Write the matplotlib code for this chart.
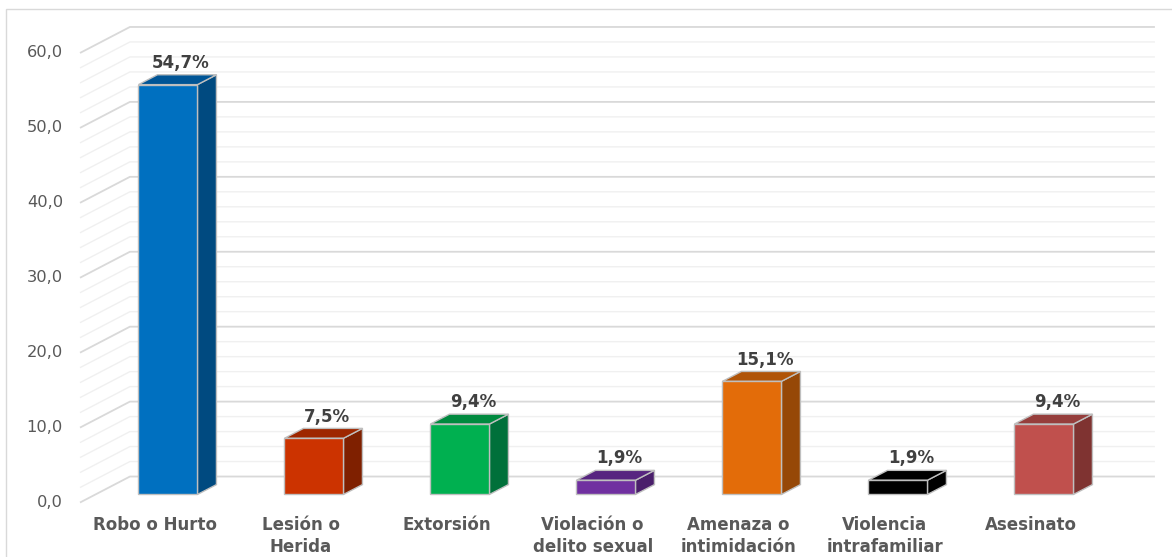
import matplotlib.pyplot as plt
from matplotlib.patches import Polygon, Rectangle

# data
categories = ["Robo o Hurto", "Lesión o\nHerida", "Extorsión", "Violación o\ndelito sexual",
              "Amenaza o\nintimidación", "Violencia\nintrafamiliar", "Asesinato"]
values = [54.7, 7.5, 9.4, 1.9, 15.1, 1.9, 9.4]
value_labels = ["54,7%", "7,5%", "9,4%", "1,9%", "15,1%", "1,9%", "9,4%"]
y_ticks = [0, 10, 20, 30, 40, 50, 60]
y_tick_labels = ["0,0", "10,0", "20,0", "30,0", "40,0", "50,0", "60,0"]

front_colors = ["#0070C0", "#CC3300", "#00B050", "#7030A0", "#E36C09", "#000000", "#C0504D"]
top_colors = ["#005596", "#9E2700", "#008A3F", "#572580", "#B05408", "#000000", "#963E3C"]
side_colors = ["#004A80", "#7F2000", "#00703A", "#4A1F6B", "#964807", "#000000", "#7F3331"]

# fake 3d: depth 0 = front plane, depth 1 = back wall
DX, DY = 0.342, 3.47      # depth offset in (category units, value units)
D0, D1 = 0.31, 0.69       # bar front / back depth
HALF_W = 0.202
WALL_L, WALL_R = -0.4966, 6.524


def proj(x, v, d):
    return (x + d * DX, v + d * DY)


fig = plt.figure(figsize=(11.72, 5.57), dpi=100)
ax = fig.add_axes([0, 0, 1, 1])
ax.set_xlim(-1.0445, 6.983)
ax.set_ylim(-7.27, 67.07)
ax.axis('off')

# walls gridlines (major every 10, minor every 2)
for v in range(0, 61, 2):
    col = "#d9d9d9" if v % 10 == 0 else "#f0f0f0"
    lw = 1.3 if v % 10 == 0 else 1.0
    p0 = proj(WALL_L, v, 0)
    p1 = proj(WALL_L, v, 1)
    p2 = proj(WALL_R, v, 1)
    ax.plot([p0[0], p1[0], p2[0]], [p0[1], p1[1], p2[1]], color=col, lw=lw, zorder=1,
            solid_capstyle='butt')

for v, lab in zip(y_ticks, y_tick_labels):
    ax.text(WALL_L - 0.117, v, lab, ha='right', va='center', fontsize=11.7, color="#595959")

# bars
for i, v in enumerate(values):
    x0, x1 = i - HALF_W, i + HALF_W
    front = [proj(x0, 0, D0), proj(x1, 0, D0), proj(x1, v, D0), proj(x0, v, D0)]
    top = [proj(x0, v, D0), proj(x1, v, D0), proj(x1, v, D1), proj(x0, v, D1)]
    side = [proj(x1, 0, D0), proj(x1, 0, D1), proj(x1, v, D1), proj(x1, v, D0)]
    for pts, fc in [(side, side_colors[i]), (top, top_colors[i]), (front, front_colors[i])]:
        ax.add_patch(Polygon(pts, closed=True, facecolor=fc, edgecolor="#bfbfbf",
                             lw=1.0, joinstyle='miter', zorder=3))
    lx, ly = proj(i, v, 0.57)
    ax.text(lx, ly + 2.0, value_labels[i], ha='center', va='center', fontsize=12,
            fontweight='bold', color="#404040", zorder=4)
    ax.text(i + 0.015, -1.75, categories[i], ha='center', va='top', fontsize=12,
            fontweight='bold', color="#595959", linespacing=1.3)

# outer chart border
fig.patches.append(Rectangle((6 / 1172, -0.01), 1.1, 1 - 9 / 557 + 0.01, transform=fig.transFigure,
                             fill=False, edgecolor="#d9d9d9", lw=1.0))

fig.savefig("out.png", dpi=100, facecolor="white")
